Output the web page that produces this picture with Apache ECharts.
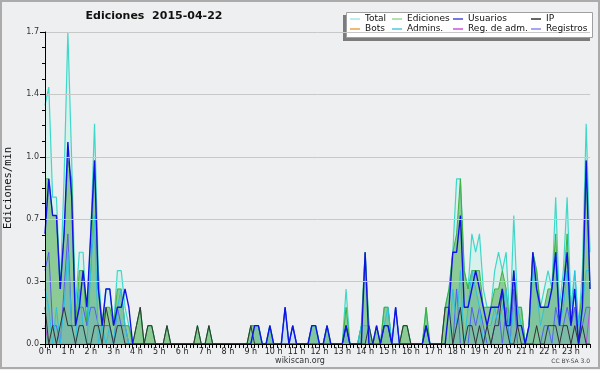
<!DOCTYPE html>
<html><head><meta charset="utf-8">
<script src="https://cdn.jsdelivr.net/npm/echarts@6/dist/echarts.min.js"></script>
<style>html,body{margin:0;padding:0;background:#eeeff1}#c{width:600px;height:370px}</style>
</head><body><div id="c"></div>
<script>
// 10-minute buckets (144), values in edits/min
const hourLabels = ['0 h','1 h','2 h','3 h','4 h','5 h','6 h','7 h','8 h','9 h','10 h','11 h','12 h','13 h','14 h','15 h','16 h','17 h','18 h','19 h','20 h','21 h','22 h','23 h'];
const yTickLabels = ['0.0','0.3','0.7','1.0','1.4','1.7'];
const legendNames = ['Total','Ediciones','Usuarios','IP','Bots','Admins.','Reg. de adm.','Registros'];

const total = [
 1.3,1.4,0.8,0.8,0.3,0.9, 1.7,1.0,0.2,0.5,0.5,0.1, 0.6,1.2,0.4,0.1,0.3,0.3, 0.1,0.4,0.4,0.2,0.1,0.0,
 0.1,0.2,0.0,0.1,0.1,0.0, 0,0,0.1,0,0,0, 0,0,0,0,0.1,0, 0,0.1,0,0,0,0,
 0,0,0,0,0,0, 0.1,0.1,0.1,0,0,0.1, 0,0,0,0.2,0,0.1, 0,0,0,0,0.1,0.1,
 0,0,0.1,0,0,0, 0,0.3,0,0,0,0.1, 0.5,0.1,0,0.1,0,0.2, 0.2,0,0.2,0,0.1,0.1,
 0,0,0,0,0.2,0, 0,0,0,0.2,0.3,0.5, 0.9,0.9,0.4,0.3,0.6,0.5, 0.6,0.3,0.2,0.2,0.4,0.5,
 0.4,0.5,0.1,0.7,0.2,0.2, 0,0.1,0.5,0.4,0.2,0.3, 0.4,0.3,0.8,0.2,0.4,0.8, 0.2,0.4,0.1,0.4,1.2,0.5
];
const ediciones = [
 0.9,0.9,0.7,0.7,0.3,0.6, 1.0,0.9,0.1,0.4,0.4,0.1, 0.4,1.0,0.3,0.1,0.2,0.2, 0.1,0.3,0.3,0.1,0.1,0.0,
 0.1,0.2,0.0,0.1,0.1,0.0, 0,0,0.1,0,0,0, 0,0,0,0,0.1,0, 0,0.1,0,0,0,0,
 0,0,0,0,0,0, 0.1,0.1,0.1,0,0,0.1, 0,0,0,0,0,0, 0,0,0,0,0.1,0.1,
 0,0,0.1,0,0,0, 0,0.2,0,0,0,0.1, 0.5,0.1,0,0.1,0,0.2, 0.2,0,0,0,0.1,0.1,
 0,0,0,0,0.2,0, 0,0,0,0.2,0.3,0.5, 0.6,0.9,0.4,0.3,0.4,0.4, 0.4,0.2,0.2,0.2,0.3,0.3,
 0.4,0.3,0.1,0.4,0.2,0.2, 0,0.1,0.5,0.4,0.2,0.2, 0.3,0.3,0.6,0.1,0.3,0.6, 0.1,0.2,0.1,0.3,1.0,0.3
];
const usuarios = [
 0.6,0.9,0.7,0.7,0.3,0.6, 1.1,0.8,0.1,0.2,0.4,0.2, 0.6,1.0,0.3,0.1,0.3,0.3, 0.1,0.2,0.2,0.3,0.2,0.0,
 0,0,0,0,0,0, 0,0,0,0,0,0, 0,0,0,0,0,0, 0,0,0,0,0,0,
 0,0,0,0,0,0, 0,0.1,0.1,0,0,0.1, 0,0,0,0.2,0,0.1, 0,0,0,0,0.1,0.1,
 0,0,0.1,0,0,0, 0,0.1,0,0,0,0, 0.5,0,0,0.1,0,0.1, 0.1,0,0.2,0,0,0,
 0,0,0,0,0.1,0, 0,0,0,0,0.2,0.5, 0.5,0.7,0.2,0.2,0.3,0.4, 0.3,0.2,0.1,0.2,0.2,0.2,
 0.3,0.1,0.1,0.4,0.1,0.1, 0,0.1,0.5,0.3,0.2,0.2, 0.2,0.3,0.5,0.1,0.3,0.5, 0.1,0.3,0.0,0.2,1.0,0.3
];
const ip = [
 0.2,0.0,0.1,0.0,0.1,0.2, 0.1,0.1,0.0,0.1,0.1,0.0, 0.0,0.1,0.1,0.0,0.2,0.1, 0.0,0.1,0.1,0.0,0.0,0.0,
 0.1,0.2,0.0,0.1,0.1,0.0, 0,0,0.1,0,0,0, 0,0,0,0,0.1,0, 0,0.1,0,0,0,0,
 0,0,0,0,0,0, 0.1,0,0,0,0,0, 0,0,0,0,0,0, 0,0,0,0,0,0,
 0,0,0,0,0,0, 0,0.1,0,0,0,0, 0,0.1,0,0,0,0.1, 0.1,0,0,0,0.1,0.1,
 0,0,0,0,0.1,0, 0,0,0,0.2,0.2,0.0, 0.1,0.2,0.0,0.1,0.1,0.0, 0.1,0.0,0.1,0.0,0.1,0.1,
 0.3,0.1,0.0,0.0,0.1,0.0, 0,0,0,0.1,0,0, 0.1,0.1,0.1,0,0.1,0.1, 0,0.1,0,0.1,0,0
];
const bots = [
 0,0,0,0,0,0, 0,0,0,0,0,0, 0,0,0,0,0,0, 0,0,0,0,0,0,
 0,0,0,0,0,0, 0,0,0,0,0,0, 0,0,0,0,0,0, 0,0,0,0,0,0,
 0,0,0,0,0,0, 0,0,0,0,0,0, 0,0,0,0,0,0, 0,0,0,0,0,0,
 0,0,0,0,0,0, 0,0,0,0,0,0, 0,0,0,0,0,0, 0,0,0,0,0,0,
 0,0,0,0,0,0, 0,0,0,0,0,0, 0,0,0,0,0,0, 0,0,0,0,0,0,
 0,0,0,0,0,0, 0,0,0,0,0,0, 0,0,0,0,0,0, 0,0,0,0,0,0
];
const admins = [
 0.3,0.2,0.0,0.2,0.0,0.2, 0.5,0.1,0.0,0.3,0.1,0.0, 0.4,0.7,0.0,0.1,0.0,0.1, 0.0,0.2,0.3,0.1,0.0,0.0,
 0,0,0,0,0,0, 0,0,0,0,0,0, 0,0,0,0,0,0, 0,0,0,0,0,0,
 0,0,0,0,0,0, 0,0.1,0.1,0,0,0.1, 0,0,0,0,0,0, 0,0,0,0,0.1,0.1,
 0,0,0.1,0,0,0, 0,0.1,0,0,0,0.1, 0.1,0.1,0,0,0,0.1, 0.2,0,0,0,0,0,
 0,0,0,0,0.1,0, 0,0,0,0,0.0,0.3, 0.1,0.4,0.0,0.2,0.4,0.3, 0.2,0.0,0.1,0.1,0.2,0.1,
 0.2,0.3,0.0,0.2,0.2,0.1, 0,0.1,0.4,0.3,0.1,0.2, 0.2,0.3,0.5,0.1,0.2,0.4, 0.1,0.4,0.1,0.2,0.4,0.4
];
const regAdm = [
 0.1,0,0,0,0,0, 0,0,0,0,0,0, 0,0,0,0,0,0, 0,0,0,0,0,0,
 0,0,0,0,0,0, 0,0,0,0,0,0, 0,0,0,0,0,0, 0,0,0,0,0,0,
 0,0,0,0,0,0, 0,0,0,0,0,0, 0,0,0,0,0,0, 0,0,0,0,0,0,
 0,0,0,0,0,0, 0,0,0,0,0,0, 0,0,0,0,0,0, 0,0,0,0,0,0,
 0,0,0,0,0,0, 0,0,0,0,0,0, 0,0,0,0,0,0, 0,0,0,0,0,0,
 0,0,0,0,0,0, 0,0,0,0,0,0, 0,0,0,0,0,0, 0,0,0,0,0,0.2
];
const registros = [
 0.4,0.5,0.1,0.1,0.0,0.3, 0.6,0.1,0.1,0.2,0.2,0.1, 0.2,0.2,0.1,0.1,0.1,0.1, 0.0,0.2,0.1,0.1,0.0,0.0,
 0,0,0,0,0,0, 0,0,0,0,0,0, 0,0,0,0,0,0, 0,0,0,0,0,0,
 0,0,0,0,0,0, 0,0,0,0,0,0, 0,0,0,0.2,0,0.1, 0,0,0,0,0,0,
 0,0,0,0,0,0, 0,0.1,0,0,0,0, 0,0,0,0,0,0, 0,0,0.2,0,0,0,
 0,0,0,0,0,0, 0,0,0,0,0,0, 0.3,0,0,0,0.2,0.1, 0.2,0.1,0,0,0.1,0.2,
 0,0.2,0,0.3,0,0, 0,0,0,0,0,0.1, 0.1,0,0.2,0.1,0.1,0.2, 0.1,0.2,0,0.1,0.2,0.2
];

const lineColors = {Total:'#3fd8c8', Ediciones:'#3fb03f', Usuarios:'#1212e6', IP:'#333333', Bots:'#f39c3c', 'Admins.':'#2cc2e2', 'Reg. de adm.':'#cc44dd', Registros:'#5a5af2'};
const legendColors = {Total:'#a9e7df', Ediciones:'#98d898', Usuarios:'#4848e0', IP:'#333333', Bots:'#f0a040', 'Admins.':'#4cc8e4', 'Reg. de adm.':'#d050e0', Registros:'#8888f0'};

const pts = arr => arr.map((v, i) => [i, v]);
function mk(name, arr, z, width, area) {
  const s = {name, type:'line', data: pts(arr), showSymbol:false, symbol:'none', z,
    lineStyle:{color: lineColors[name], width}, itemStyle:{color: lineColors[name]}, silent:true};
  if (area) s.areaStyle = {color: area, opacity: 1};
  return s;
}
const series = [
  mk('Total', total, 1, 1.2, '#d8f1ec'),
  mk('Ediciones', ediciones, 2, 1, 'rgba(70,168,70,0.52)'),
  mk('Registros', registros, 3, 1, 'rgba(110,130,240,0.14)'),
  mk('Reg. de adm.', regAdm, 4, 1),
  mk('Bots', bots, 4, 1),
  mk('Admins.', admins, 5, 1, 'rgba(40,160,210,0.12)'),
  mk('IP', ip, 6, 1),
  mk('Usuarios', usuarios, 7, 1.4)
];

function legendCol(names, left) {
  return {
    data: names.map(n => ({name:n, itemStyle:{color: legendColors[n]}})),
    left, top: 14, orient:'vertical', itemGap:0, itemWidth:10, itemHeight:1.5, icon:'rect',
    selectedMode:false, padding:0, z:100,
    textStyle:{fontFamily:'DejaVu Sans', fontSize:9, lineHeight:10, color:'#111'}
  };
}

const chart = echarts.init(document.getElementById('c'));
chart.setOption({
  animation:false,
  backgroundColor:'#eeeff1',
  grid:{left:45, right:10, top:32, bottom:26, outerBoundsMode:'none', containLabel:false},
  xAxis:{type:'value', min:0, max:143, interval:1, z:10,
    axisLine:{lineStyle:{color:'#000', width:1}},
    axisTick:{length:4, lineStyle:{color:'#000'}},
    splitLine:{show:false},
    axisLabel:{margin:4, fontFamily:'DejaVu Sans', fontSize:8, color:'#222',
      formatter: v => (v % 6 === 0 ? hourLabels[v / 6] : '')}
  },
  yAxis:{type:'value', min:0, max:1.7, interval:0.34, z:10,
    name:'Ediciones/min', nameLocation:'middle', nameGap:31,
    nameTextStyle:{fontFamily:'DejaVu Sans Mono', fontSize:10.5, color:'#111'},
    axisLine:{show:true, lineStyle:{color:'#000'}},
    axisTick:{show:true, length:5, lineStyle:{color:'#000'}},
    minorTick:{show:true, splitNumber:4, length:3, lineStyle:{color:'#000'}},
    splitLine:{lineStyle:{color:'#c8c8c8'}},
    axisLabel:{margin:6, fontFamily:'DejaVu Sans', fontSize:8, color:'#333',
      formatter: v => yTickLabels[Math.round(v / 0.34)]}
  },
  legend:[
    legendCol(['Total','Bots'], 350),
    legendCol(['Ediciones','Admins.'], 392),
    legendCol(['Usuarios','Reg. de adm.'], 453),
    legendCol(['IP','Registros'], 531)
  ],
  graphic:[
    {type:'rect', z:-10, silent:true, shape:{x:1, y:1, width:598, height:367}, style:{fill:'none', stroke:'#ababab', lineWidth:2}},
    {type:'rect', z:1, silent:true, shape:{x:343, y:15, width:247, height:26}, style:{fill:'#7c7c7c'}},
    {type:'rect', z:2, silent:true, shape:{x:346.5, y:12.5, width:246, height:25}, style:{fill:'#ffffff', stroke:'#a0a0a0', lineWidth:1}},
    {type:'text', z:60, x:154, y:16, silent:true, style:{text:'Ediciones  2015-04-22', fontFamily:'DejaVu Sans', fontWeight:'bold', fontSize:11, fill:'#111', align:'center', verticalAlign:'middle'}},
    {type:'text', z:60, x:300, y:361, silent:true, style:{text:'wikiscan.org', fontFamily:'DejaVu Sans', fontSize:8, fill:'#333', align:'center', verticalAlign:'middle'}},
    {type:'text', z:60, x:590, y:361, silent:true, style:{text:'CC BY-SA 3.0', fontFamily:'DejaVu Sans', fontSize:6, fill:'#444', align:'right', verticalAlign:'middle'}}
  ],
  series
});
</script></body></html>
